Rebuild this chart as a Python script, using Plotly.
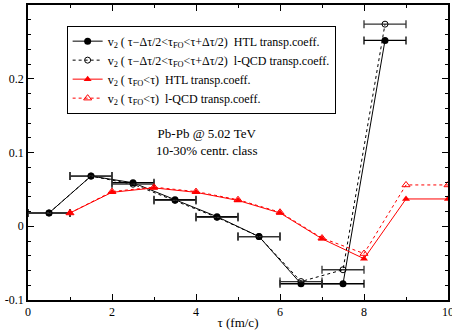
import plotly.graph_objects as go

# Binned freeze-out time: tau - dtau/2 < tau_FO < tau + dtau/2
tau_bin = [0.5, 1.5, 2.5, 3.5, 4.5, 5.5, 6.5, 7.5, 8.5]
dtau_half = [0.5] * 9
v2_bin_htl = [0.018, 0.068, 0.059, 0.036, 0.013, -0.014, -0.078, -0.078, 0.252]
v2_bin_lqcd = [0.018, 0.068, 0.057, 0.035, 0.012, -0.014, -0.075, -0.059, 0.274]

# Cumulative: tau_FO < tau
tau_cum = [1, 2, 3, 4, 5, 6, 7, 8, 9, 10]
v2_cum_htl = [0.018, 0.046, 0.052, 0.046, 0.035, 0.018, -0.017, -0.044, 0.037, 0.037]
v2_cum_lqcd = [0.018, 0.047, 0.053, 0.047, 0.036, 0.019, -0.016, -0.037, 0.056, 0.056]

# Axis ticks
x_ticks = [0, 2, 4, 6, 8, 10]
y_ticks = [-0.1, 0, 0.1, 0.2]
y_tick_labels = ["-0.1", "0", "0.1", "0.2"]

SERIF = "Liberation Serif"

fig = go.Figure()

fig.add_trace(go.Scatter(
    x=tau_bin, y=v2_bin_htl, mode="lines+markers",
    name="v<sub>2</sub> ( τ−Δτ/2<τ<sub>FO</sub><τ+Δτ/2)  HTL transp.coeff.",
    line=dict(color="black", width=1),
    marker=dict(symbol="circle", size=7, color="black"),
    error_x=dict(type="data", array=dtau_half, color="black", thickness=1.3, width=4),
))
fig.add_trace(go.Scatter(
    x=tau_bin, y=v2_bin_lqcd, mode="lines+markers",
    name="v<sub>2</sub> ( τ−Δτ/2<τ<sub>FO</sub><τ+Δτ/2)  l-QCD transp.coeff.",
    line=dict(color="black", width=1, dash="dot"),
    marker=dict(symbol="circle-open", size=6, color="black", line=dict(width=1)),
    error_x=dict(type="data", array=dtau_half, color="#333333", thickness=1.3, width=4),
))
fig.add_trace(go.Scatter(
    x=tau_cum, y=v2_cum_htl, mode="lines+markers",
    name="v<sub>2</sub> ( τ<sub>FO</sub><τ)  HTL transp.coeff.",
    line=dict(color="red", width=1),
    marker=dict(symbol="triangle-up", size=7, color="red"),
))
fig.add_trace(go.Scatter(
    x=tau_cum, y=v2_cum_lqcd, mode="lines+markers",
    name="v<sub>2</sub> ( τ<sub>FO</sub><τ)  l-QCD transp.coeff.",
    line=dict(color="red", width=1, dash="dot"),
    marker=dict(symbol="triangle-up-open", size=7, color="red", line=dict(width=1)),
))

axis_common = dict(
    showline=True, linecolor="black", linewidth=1.5, mirror="allticks",
    ticks="inside", ticklen=6, tickwidth=1, tickcolor="black",
    showgrid=False, zeroline=False, automargin=False,
    ticklabeloverflow="allow",
    tickfont=dict(family=SERIF, size=12, color="black"),
)

fig.update_xaxes(
    range=[0, 10], tickvals=x_ticks,
    minor=dict(dtick=1, tick0=0, ticks="inside", ticklen=3, tickcolor="black"),
    title=dict(text="τ (fm/c)", font=dict(family=SERIF, size=13, color="black"), standoff=2),
    **axis_common,
)
fig.update_yaxes(
    range=[-0.1, 0.3], tickvals=y_ticks, ticktext=y_tick_labels,
    minor=dict(dtick=0.02, tick0=0, ticks="inside", ticklen=3, tickcolor="black"),
    **axis_common,
)

fig.add_annotation(
    x=4.25, y=0.114, xref="x", yref="y",
    text="Pb-Pb @ 5.02 TeV<br>10-30% centr. class",
    showarrow=False, font=dict(family=SERIF, size=13, color="black"),
    align="center",
)
# Axis title sits at the very left edge of the canvas
fig.add_annotation(
    x=-0.062, y=0.505, xref="paper", yref="paper", xanchor="right",
    text="v<sub>2</sub>", textangle=-90, showarrow=False,
    font=dict(family=SERIF, size=13, color="black"),
)

fig.update_layout(
    width=452, height=330,
    margin=dict(l=28, r=4, t=5, b=30),
    paper_bgcolor="white", plot_bgcolor="white",
    showlegend=True,
    legend=dict(
        x=0.092, y=0.93, xanchor="left", yanchor="top",
        bgcolor="white", bordercolor="black", borderwidth=1,
        font=dict(family=SERIF, size=12, color="black"),
        itemwidth=30, tracegroupgap=0,
    ),
)

fig.write_html("out.html")
